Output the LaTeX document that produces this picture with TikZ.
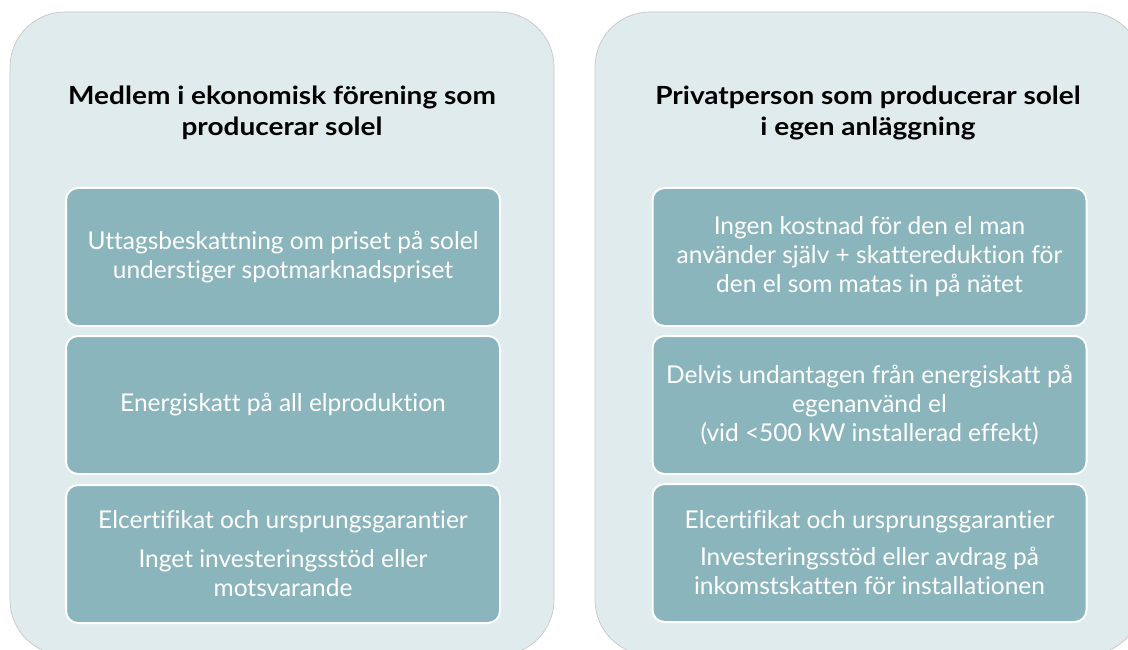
\documentclass[tikz,border=0pt]{standalone}
\usepackage{fontspec}
\usepackage{graphicx}
\setmainfont{Lato}[Ligatures=NoCommon]
\definecolor{panelfill}{HTML}{DFEBED}
\definecolor{boxfill}{HTML}{8BB5BC}
\newcommand{\mytitle}[2]{\scalebox{1.12}[1]{\begin{tabular}{@{}c@{}}#1\\#2\end{tabular}}}
\begin{document}
\begin{tikzpicture}[x=1pt,y=-1pt,
  panel/.style={fill=panelfill,draw=black!22,line width=0.7pt,rounded corners=55pt},
  infobox/.style={fill=boxfill,draw=white,line width=2pt,rounded corners=12pt,
    minimum width=434pt,minimum height=138pt,text=white,align=center,
    font=\fontsize{24.5}{29}\selectfont,inner sep=0pt},
  titletext/.style={inner sep=0pt,font=\fontsize{25}{31}\selectfont\bfseries,text=black}]
\useasboundingbox (0,0) rectangle (1128,650);
\begin{scope}
\clip (0,0) rectangle (1128,650);
\path[panel] (10,12) rectangle (554,655);
\path[panel] (595,12) rectangle (1142,655);
\end{scope}
\node[titletext] (lt) at (282,114) {\mytitle{Medlem i ekonomisk förening som}{producerar solel}};
\node[titletext] (rt) at (868,114) {\mytitle{Privatperson som producerar solel}{i egen anläggning}};
\node[infobox] (lb1) at (283,257) {Uttagsbeskattning om priset på solel\\understiger spotmarknadspriset};
\node[infobox] (lb2) at (283,405) {Energiskatt på all elproduktion};
\node[infobox] (lb3) at (283,554) {Elcertifikat och ursprungsgarantier\\[10pt]Inget investeringsstöd eller\\motsvarande};
\node[infobox] (rb1) at (869.5,257) {Ingen kostnad för den el man\\använder själv + skattereduktion för\\den el som matas in på nätet};
\node[infobox] (rb2) at (869.5,405) {Delvis undantagen från energiskatt på\\egenanvänd el\\(vid <500 kW installerad effekt)};
\node[infobox] (rb3) at (869.5,553) {Elcertifikat och ursprungsgarantier\\[8pt]Investeringsstöd eller avdrag på\\inkomstskatten för installationen};
\end{tikzpicture}
\end{document}
